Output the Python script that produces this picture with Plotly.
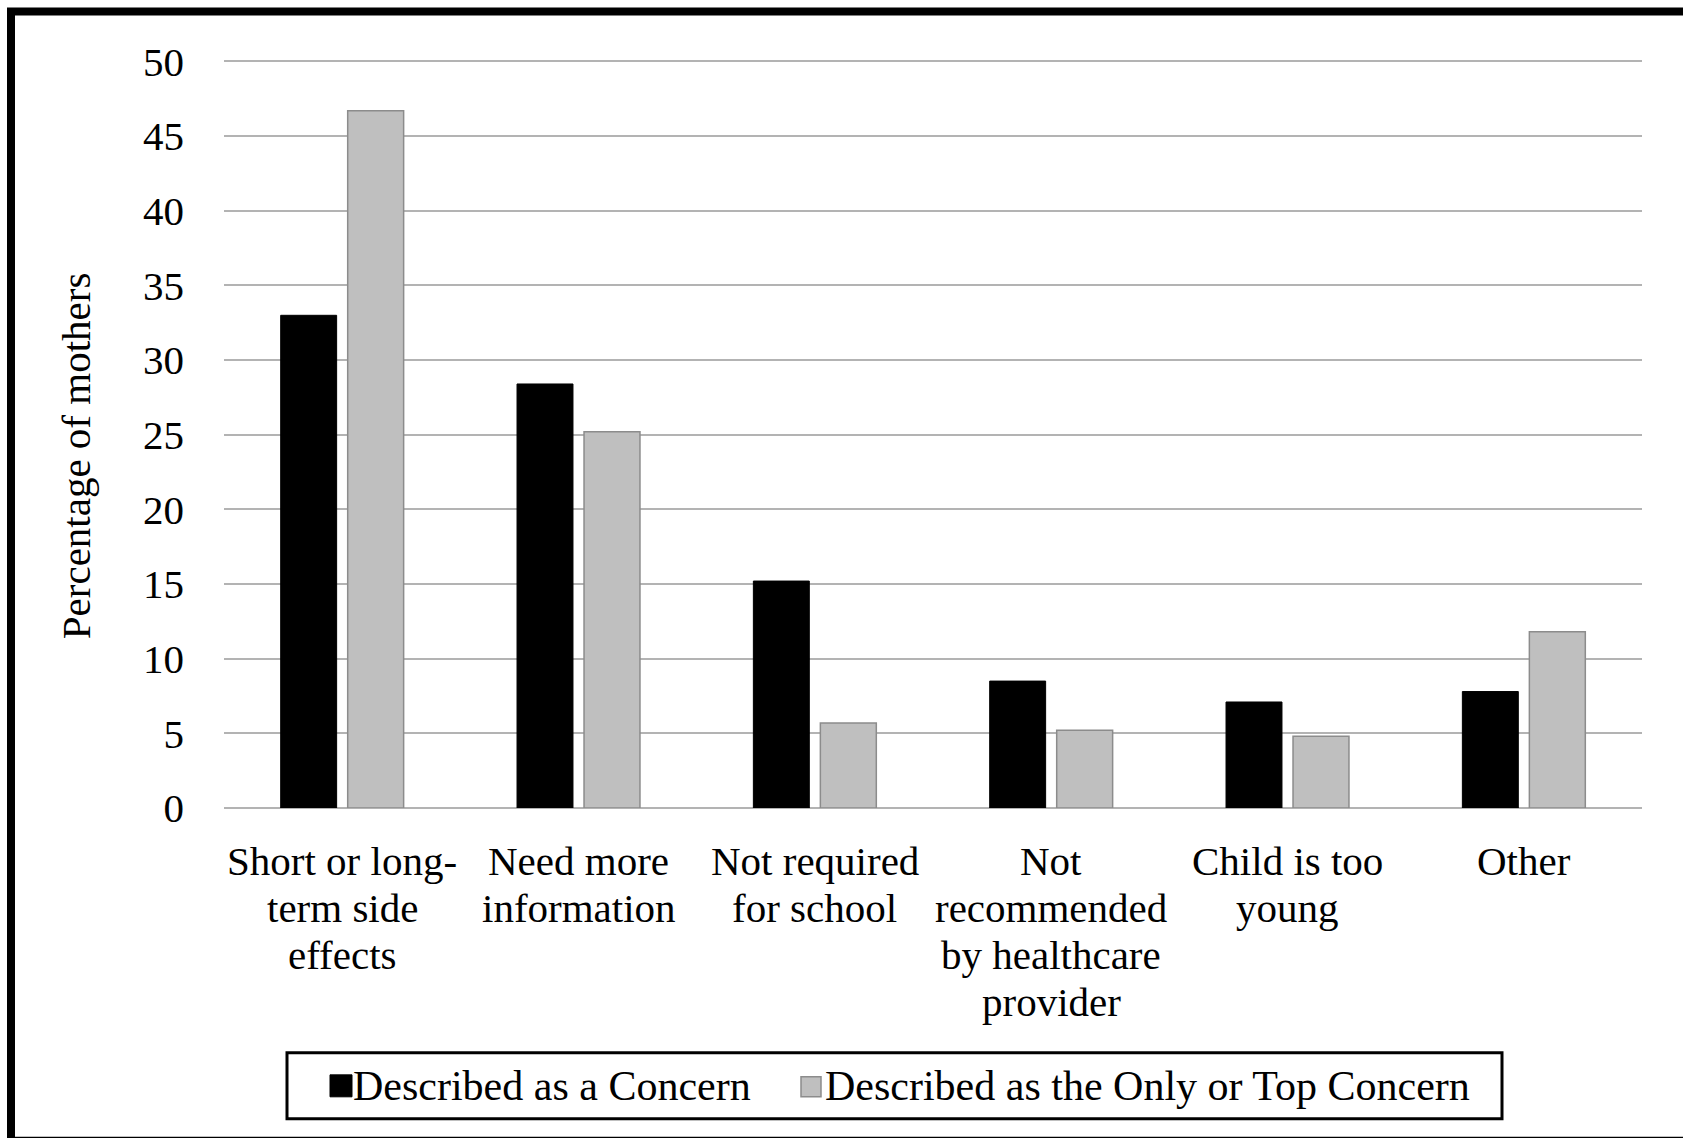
import plotly.graph_objects as go

# ---- data ----
categories = [
    "Short or long-term side effects",
    "Need more information",
    "Not required for school",
    "Not recommended by healthcare provider",
    "Child is too young",
    "Other",
]
category_label_lines = [
    ["Short or long-", "term side", "effects"],
    ["Need more", "information"],
    ["Not required", "for school"],
    ["Not", "recommended", "by healthcare", "provider"],
    ["Child is too", "young"],
    ["Other"],
]
series_names = ["Described as a Concern", "Described as the Only or Top Concern"]
concern_values = [33.0, 28.4, 15.2, 8.5, 7.1, 7.8]
top_concern_values = [46.7, 25.2, 5.7, 5.2, 4.8, 11.8]
y_tick_values = [0, 5, 10, 15, 20, 25, 30, 35, 40, 45, 50]
y_title = "Percentage of mothers"

# ---- layout geometry (pixels) ----
W, H = 1683, 1138
Y_TOP = 50.3
PL, PR, PB = 224, 1642, 808  # plot area edges
PX_PER_UNIT = (PB - 61) / 50.0
PT = PB - Y_TOP * PX_PER_UNIT


def px2x(px):
    return (px - PL) / (PR - PL)


def px2y(py):
    return (PB - py) / (PB - PT)


FONT = "Liberation Serif, Times New Roman, serif"
FS = 41
FS_LEGEND = 42

fig = go.Figure()
fig.add_trace(go.Bar(
    x=categories, y=concern_values, name=series_names[0],
    marker=dict(color="#000000", line=dict(color="#000000", width=1)),
    showlegend=False,
))
fig.add_trace(go.Bar(
    x=categories, y=top_concern_values, name=series_names[1],
    marker=dict(color="#bfbfbf", line=dict(color="#8c8c8c", width=1.5)),
    showlegend=False,
))

annotations = []
# category labels (one annotation per line for Word-like line spacing)
LINE0 = 861
LINE_STEP = 47
for cat, lines in zip(categories, category_label_lines):
    for i, line in enumerate(lines):
        annotations.append(dict(
            x=cat, xref="x", y=px2y(LINE0 + i * LINE_STEP), yref="paper",
            text=line, showarrow=False, xanchor="center", yanchor="middle",
            font=dict(family=FONT, size=FS, color="#000000"),
        ))

# y axis title
annotations.append(dict(
    x=px2x(76), xref="paper", y=px2y(456), yref="paper",
    text=y_title, textangle=-90, showarrow=False,
    xanchor="center", yanchor="middle",
    font=dict(family=FONT, size=FS, color="#000000"),
))

# legend texts
legend_text_x = [351, 823]
for name, lx in zip(series_names, legend_text_x):
    annotations.append(dict(
        x=px2x(lx), xref="paper", y=px2y(1086), yref="paper",
        text=name, showarrow=False, xanchor="left", yanchor="middle",
        font=dict(family=FONT, size=FS_LEGEND, color="#000000"),
    ))

shapes = [
    # outer frame
    dict(type="rect", xref="paper", yref="paper",
         x0=px2x(11), x1=px2x(1700), y0=px2y(11), y1=px2y(1141),
         line=dict(color="#000000", width=8), fillcolor="rgba(0,0,0,0)"),
    # legend box
    dict(type="rect", xref="paper", yref="paper",
         x0=px2x(287), x1=px2x(1502), y0=px2y(1053), y1=px2y(1119),
         line=dict(color="#000000", width=3), fillcolor="rgba(0,0,0,0)"),
    # legend swatches
    dict(type="rect", xref="paper", yref="paper",
         x0=px2x(330), x1=px2x(352), y0=px2y(1075), y1=px2y(1097),
         line=dict(color="#000000", width=1), fillcolor="#000000"),
    dict(type="rect", xref="paper", yref="paper",
         x0=px2x(801), x1=px2x(821), y0=px2y(1077), y1=px2y(1097),
         line=dict(color="#8c8c8c", width=1.5), fillcolor="#bfbfbf"),
]

fig.update_layout(
    width=W, height=H, autosize=False,
    margin=dict(l=PL, r=W - PR, t=PT, b=H - PB, pad=0),
    paper_bgcolor="#ffffff", plot_bgcolor="#ffffff",
    barmode="group", bargap=0.433, bargroupgap=0.165,
    font=dict(family=FONT, size=FS, color="#000000"),
    showlegend=False,
    annotations=annotations,
    shapes=shapes,
    xaxis=dict(
        showticklabels=False, showgrid=False, showline=False, zeroline=False,
        ticks="", fixedrange=True,
    ),
    yaxis=dict(
        range=[0, Y_TOP], tickvals=y_tick_values,
        showgrid=True, gridcolor="#b3b3b3", gridwidth=2,
        zeroline=True, zerolinecolor="#b3b3b3", zerolinewidth=2,
        showline=False, ticks="", ticklabelstandoff=39,
        tickfont=dict(family=FONT, size=FS, color="#000000"),
        fixedrange=True,
    ),
)

fig.write_html(
    "out.html",
    config={"displayModeBar": False},
    post_script="document.body.style.margin='0';document.body.style.overflow='hidden';",
)
